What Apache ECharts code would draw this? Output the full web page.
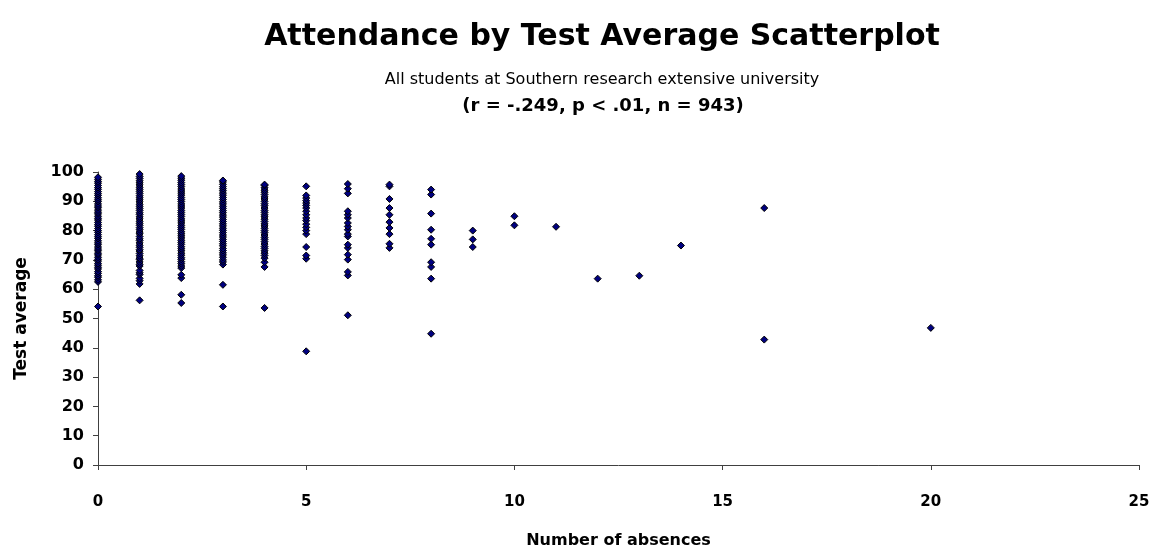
<!DOCTYPE html>
<html>
<head>
<meta charset="utf-8">
<title>Attendance by Test Average Scatterplot</title>
<script src="https://cdn.jsdelivr.net/npm/echarts@6/dist/echarts.min.js"></script>
<style>
body{margin:0;background:#fff;}
#chart{width:1156px;height:556px;}
</style>
</head>
<body>
<div id="chart"></div>
<script>
// test averages, one list per number of absences
var abs0 = [54.1, 62.5, 63.2, 64.1, 64.6, 65.4, 66.0, 66.9, 67.5, 68.2, 68.8, 69.6, 70.2, 70.9, 71.7, 72.3, 73.1, 73.7, 74.4, 75.2, 75.8, 76.5, 77.3, 77.9, 78.6, 79.4, 80.0, 80.7, 81.5, 82.1, 82.8, 83.6, 84.2, 84.9, 85.7, 86.3, 87.0, 87.8, 88.4, 89.1, 89.9, 90.5, 91.2, 92.0, 92.6, 93.3, 94.1, 94.7, 95.4, 96.2, 96.8, 97.5, 98.2];
var abs1 = [56.2, 61.8, 62.9, 63.7, 65.0, 65.6, 66.4, 67.9, 68.5, 69.3, 70.1, 70.6, 71.4, 72.2, 73.0, 73.5, 74.3, 75.0, 75.8, 76.6, 77.2, 78.0, 78.9, 79.5, 80.3, 81.0, 81.8, 82.5, 83.2, 84.0, 84.7, 85.5, 86.1, 86.9, 87.6, 88.3, 89.0, 89.8, 90.5, 91.2, 91.9, 92.7, 93.4, 94.1, 94.8, 95.6, 96.3, 97.0, 97.8, 98.5, 99.3];
var abs2 = [55.3, 58.1, 63.8, 64.9, 67.2, 67.9, 68.7, 69.4, 70.2, 70.8, 71.6, 72.3, 73.1, 73.8, 74.5, 75.3, 76.0, 76.7, 77.5, 78.2, 78.9, 79.6, 80.4, 81.1, 81.8, 82.6, 83.3, 84.0, 84.8, 85.5, 86.2, 86.9, 87.7, 88.4, 89.1, 89.9, 90.6, 91.3, 92.1, 92.8, 93.5, 94.2, 95.0, 95.7, 96.4, 97.2, 97.9, 98.6];
var abs3 = [54.1, 61.5, 68.4, 69.3, 70.0, 70.9, 71.7, 72.4, 73.2, 73.9, 74.8, 75.5, 76.3, 77.0, 77.8, 78.5, 79.3, 80.1, 80.8, 81.6, 82.3, 83.1, 83.8, 84.6, 85.3, 86.1, 86.8, 87.6, 88.3, 89.1, 89.8, 90.6, 91.3, 92.1, 92.8, 93.6, 94.3, 95.0, 95.8, 96.6, 97.1];
var abs4 = [53.6, 67.6, 69.2, 70.6, 71.5, 72.3, 73.1, 73.9, 74.6, 75.4, 76.2, 77.0, 77.7, 78.5, 79.3, 80.0, 80.8, 81.6, 82.3, 83.1, 83.9, 84.7, 85.4, 86.2, 86.9, 87.7, 88.5, 89.2, 90.0, 90.8, 91.5, 92.3, 93.1, 93.8, 94.6, 95.4, 95.7];
var abs5 = [38.8, 70.4, 71.5, 74.4, 78.8, 80.0, 81.1, 82.2, 83.4, 84.3, 85.4, 86.6, 87.7, 88.6, 89.4, 90.2, 91.1, 92.0, 95.1];
var abs6 = [51.1, 64.7, 65.9, 70.1, 71.8, 74.1, 75.2, 78.0, 78.8, 80.3, 81.4, 82.6, 84.3, 85.4, 86.6, 92.7, 94.3, 95.9];
var abs7 = [74.1, 75.5, 78.8, 80.9, 82.9, 85.4, 87.7, 90.8, 95.1, 95.7];
var abs8 = [44.8, 63.6, 67.6, 69.2, 75.2, 77.2, 80.3, 85.8, 92.3, 94.0];
var abs9 = [74.4, 77.0, 80.0];
var abs10 = [81.8, 84.9];
var abs11 = [81.3];
var abs12 = [63.6];
var abs13 = [64.6];
var abs14 = [74.9];
var abs16 = [42.8, 87.7];
var abs20 = [46.8];

var absenceLevels = [0, 1, 2, 3, 4, 5, 6, 7, 8, 9, 10, 11, 12, 13, 14, 16, 20];
var scoreLists = [abs0, abs1, abs2, abs3, abs4, abs5, abs6, abs7, abs8, abs9, abs10, abs11, abs12, abs13, abs14, abs16, abs20];

var yTicks = [0, 10, 20, 30, 40, 50, 60, 70, 80, 90, 100];
var xTicks = [0, 5, 10, 15, 20, 25];

function buildPoints(){
	var pts = [];
	for(var i=0;i<absenceLevels.length;i++){
		for(var j=0;j<scoreLists[i].length;j++){
			pts.push([absenceLevels[i], scoreLists[i][j]]);
		}
	}
	return pts;
}

var font = 'DejaVu Sans, Verdana, sans-serif';
var myChart = echarts.init(document.getElementById('chart'));

myChart.setOption({
	animation:false,
	backgroundColor:'#fff',
	title:[
		{text:'Attendance by Test Average Scatterplot', left:597, textAlign:'center', top:17,
			textStyle:{fontFamily:font, fontSize:30, fontWeight:'bold', color:'#000'}},
		{text:'All students at Southern research extensive university', left:597, textAlign:'center', top:67,
			textStyle:{fontFamily:font, fontSize:16, fontWeight:'normal', color:'#000'}},
		{text:'(r = -.249, p < .01, n = 943)', left:598, textAlign:'center', top:92,
			textStyle:{fontFamily:font, fontSize:18, fontWeight:'bold', color:'#000'}}
	],
	grid:{left:98, right:17, top:172, bottom:91, containLabel:false},
	xAxis:{
		type:'value', min:xTicks[0], max:xTicks[xTicks.length-1], interval:5,
		name:'Number of absences', nameLocation:'middle', nameGap:68,
		nameTextStyle:{fontFamily:font, fontSize:16, fontWeight:'bold', color:'#000'},
		axisLine:{show:true, onZero:false, lineStyle:{color:'#404040', width:1}},
		axisTick:{show:true, inside:false, length:5, lineStyle:{color:'#404040'}},
		axisLabel:{fontFamily:font, fontSize:15, fontWeight:'bold', color:'#000', margin:30},
		splitLine:{show:false}
	},
	yAxis:{
		type:'value', min:yTicks[0], max:yTicks[yTicks.length-1], interval:10,
		name:'Test average', nameLocation:'middle', nameGap:68,
		nameTextStyle:{fontFamily:font, fontSize:17, fontWeight:'bold', color:'#000'},
		axisLine:{show:true, onZero:false, lineStyle:{color:'#404040', width:1}},
		axisTick:{show:true, inside:false, length:5, lineStyle:{color:'#404040'}},
		axisLabel:{fontFamily:font, fontSize:16, fontWeight:'bold', color:'#000', margin:14},
		splitLine:{show:false}
	},
	series:[{
		type:'scatter',
		symbol:'diamond',
		symbolSize:7,
		data:buildPoints(),
		itemStyle:{color:'#000080', borderColor:'#000', borderWidth:1, opacity:1}
	}]
});
</script>
</body>
</html>
